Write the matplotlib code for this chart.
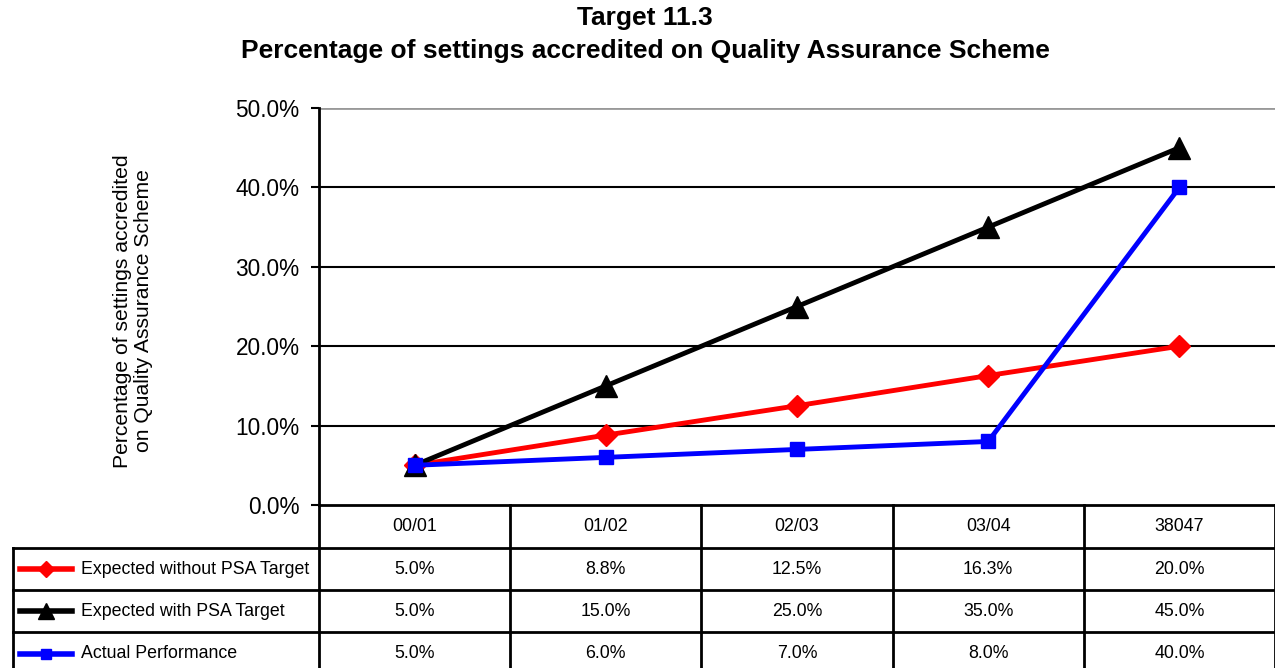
import matplotlib
matplotlib.use("Agg")
import matplotlib.pyplot as plt
from matplotlib import font_manager
from matplotlib.transforms import blended_transform_factory
from matplotlib.ticker import FuncFormatter

# Data
years = ['00/01', '01/02', '02/03', '03/04', '38047']
without_psa = [5.0, 8.8, 12.5, 16.3, 20.0]
with_psa = [5.0, 15.0, 25.0, 35.0, 45.0]
actual = [5.0, 6.0, 7.0, 8.0, 40.0]

series_names = ['Expected without PSA Target', 'Expected with PSA Target', 'Actual Performance']
series_values = [without_psa, with_psa, actual]
series_colors = ['#ff0000', '#000000', '#0000ff']
series_markers = ['D', '^', 's']
series_msize = [11, 16, 10]

names = {f.name for f in font_manager.fontManager.ttflist}
base_font = 'Liberation Sans' if 'Liberation Sans' in names else 'DejaVu Sans'
table_font, table_size = base_font, 12.8
plt.rcParams['font.family'] = base_font

W, H = 1275, 668
fig = plt.figure(figsize=(W / 100, H / 100), dpi=100)

# pixel-coordinate helper axes for the table
tab = fig.add_axes([0, 0, 1, 1], zorder=0)
tab.set_xlim(0, W)
tab.set_ylim(H, 0)
tab.axis('off')

ax = fig.add_axes([319 / W, 1 - 505 / H, 956 / W, 397 / H], zorder=1)
ax.patch.set_alpha(0)
x = list(range(len(years)))
ax.set_xlim(-0.5, len(years) - 0.5)
ax.set_ylim(0, 50)
ax.set_yticks([0, 10, 20, 30, 40, 50])
ax.yaxis.set_major_formatter(FuncFormatter(lambda v, p: f'{v:.1f}%'))
ax.tick_params(axis='y', labelsize=16.3, length=6, width=1.5, pad=8, direction='out')
ax.set_xticks([])
for yv in [10, 20, 30, 40]:
    ax.axhline(yv, color='black', lw=1.5, zorder=1)
ax.axhline(50, color='#999999', lw=2, zorder=1)
for s in ['top', 'right', 'bottom']:
    ax.spines[s].set_visible(False)
ax.spines['left'].set_linewidth(2)

for vals, c, m, ms in zip(series_values, series_colors, series_markers, series_msize):
    ax.plot(x, vals, color=c, lw=3.5, marker=m, markersize=ms, zorder=3, clip_on=False)

# Table
tr = blended_transform_factory(ax.transData, tab.transData)
row_edges = [505, 548, 590, 632, 674]
lw = 2
tab.plot([319, W], [505, 505], color='black', lw=lw)
for yv in row_edges[1:-1]:
    tab.plot([13, W], [yv, yv], color='black', lw=lw)
tab.plot([13, 13], [548, 674], color='black', lw=lw)
for i in range(len(years) + 1):
    tab.plot([i - 0.5, i - 0.5], [505, 674], color='black', lw=lw, transform=tr)

for i, yl in enumerate(years):
    tab.text(i, (505 + 548) / 2, yl, transform=tr, ha='center', va='center',
             family=table_font, fontsize=table_size)

for r, (name, vals, c, m, ms) in enumerate(zip(series_names, series_values, series_colors,
                                               series_markers, series_msize)):
    yc = (row_edges[r + 1] + row_edges[r + 2]) / 2
    if r == 2:
        yc = 654
    tab.plot([20, 72], [yc, yc], color=c, lw=4)
    tab.plot([46], [yc], color=c, marker=m, markersize=ms * 0.75)
    tab.text(81, yc, name, ha='left', va='center', family=table_font, fontsize=table_size)
    for i, v in enumerate(vals):
        tab.text(i, yc, f'{v:.1f}%', transform=tr, ha='center', va='center',
                 family=table_font, fontsize=table_size)

fig.text(645 / W, 1 - 18 / H, 'Target 11.3', ha='center', va='center',
         fontsize=19, fontweight='bold')
fig.text(645 / W, 1 - 51 / H, 'Percentage of settings accredited on Quality Assurance Scheme',
         ha='center', va='center', fontsize=19, fontweight='bold')
fig.text(133 / W, 1 - 311 / H, 'Percentage of settings accredited\non Quality Assurance Scheme',
         rotation=90, ha='center', va='center', fontsize=15.2, multialignment='center',
         linespacing=1.1)

fig.savefig('out.png', dpi=100)
